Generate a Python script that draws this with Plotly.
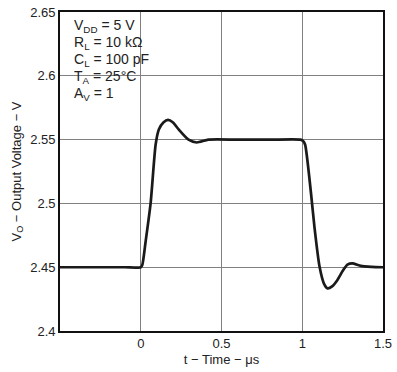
import plotly.graph_objects as go

t_us = [-0.5, -0.1, 0.0, 0.01, 0.03, 0.061, 0.092, 0.112, 0.14, 0.169, 0.2, 0.235, 0.296, 0.347, 0.419, 0.6, 0.8, 0.99,
        1.005, 1.018, 1.055, 1.076, 1.107, 1.135, 1.157, 1.185, 1.218, 1.25, 1.28, 1.31, 1.363, 1.43, 1.5]
vo = [2.45, 2.45, 2.45, 2.452, 2.47, 2.50, 2.546, 2.558, 2.5635, 2.5656, 2.5635, 2.558, 2.55, 2.5478, 2.55, 2.55, 2.55, 2.55,
      2.549, 2.546, 2.507, 2.481, 2.4505, 2.437, 2.4334, 2.435, 2.440, 2.447, 2.452, 2.453, 2.451, 2.4503, 2.45]

x_ticks = [0, 0.5, 1, 1.5]
x_labels = ["0", "0.5", "1", "1.5"]
y_ticks = [2.4, 2.45, 2.5, 2.55, 2.6, 2.65]
y_labels = ["2.4", "2.45", "2.5", "2.55", "2.6", "2.65"]

cond_lines = ["V<sub>DD</sub> = 5 V", "R<sub>L</sub> = 10 kΩ", "C<sub>L</sub> = 100 pF",
              "T<sub>A</sub> = 25°C", "A<sub>V</sub> = 1"]

fig = go.Figure()
fig.add_trace(go.Scatter(x=t_us, y=vo, mode="lines",
                         line=dict(color="#1a1a1a", width=2.7, shape="spline", smoothing=0.6),
                         showlegend=False, hoverinfo="skip"))

font = dict(family="Liberation Sans, Arial, sans-serif", size=13, color="#222")
cond_font = dict(family="Liberation Sans, Arial, sans-serif", size=14, color="#222")
annotations = [dict(text=s, xref="paper", yref="paper", x=0, y=1,
                    xanchor="left", yanchor="top", xshift=13, yshift=-(4 + 17 * i),
                    showarrow=False, align="left", borderpad=0, font=cond_font)
               for i, s in enumerate(cond_lines)]

fig.update_layout(
    width=397, height=372,
    margin=dict(l=60, r=11, t=5, b=41),
    paper_bgcolor="white", plot_bgcolor="white",
    font=font,
    xaxis=dict(range=[-0.5, 1.5], tickvals=x_ticks, ticktext=x_labels,
               showgrid=True, gridcolor="#808080", gridwidth=1,
               showline=True, linecolor="#111", linewidth=1.6, mirror=True,
               ticks="", zeroline=False, ticklabeloverflow="allow",
               title=dict(text="t − Time − μs", standoff=4, font=font)),
    yaxis=dict(range=[2.4, 2.6501], tickvals=y_ticks, ticktext=y_labels,
               showgrid=True, gridcolor="#808080", gridwidth=1,
               showline=True, linecolor="#111", linewidth=1.6, mirror=True,
               ticks="", zeroline=False, ticklabeloverflow="allow",
               title=dict(text="V<sub>O</sub> − Output Voltage − V", standoff=6, font=font)),
    shapes=[dict(type="rect", xref="paper", yref="paper", x0=0.0123, x1=0.253, y0=0.796, y1=0.9785,
                 fillcolor="white", line=dict(width=0), layer="between")],
    annotations=annotations,
)
fig.write_html("out.html", config={"responsive": False, "displayModeBar": False},
               post_script="document.body.style.margin='0';document.body.style.padding='0';")
